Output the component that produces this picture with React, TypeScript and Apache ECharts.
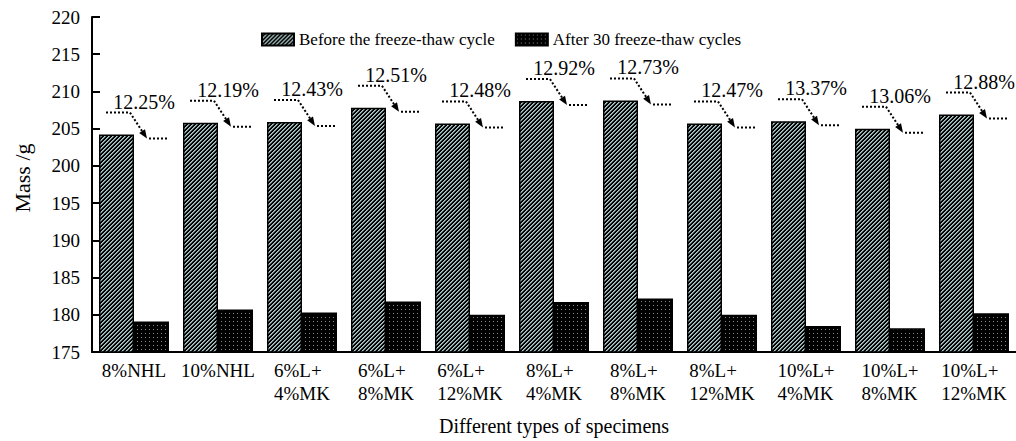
import React, { useEffect, useRef } from "react";
import * as echarts from "echarts";

// Specimen groups (line break splits the two-line labels)
const specimens = [
  "8%NHL",
  "10%NHL",
  "6%L+\n4%MK",
  "6%L+\n8%MK",
  "6%L+\n12%MK",
  "8%L+\n4%MK",
  "8%L+\n8%MK",
  "8%L+\n12%MK",
  "10%L+\n4%MK",
  "10%L+\n8%MK",
  "10%L+\n12%MK",
];

// Mass (g) before and after 30 freeze-thaw cycles
const massBefore = [204.2, 205.8, 205.9, 207.8, 205.7, 208.7, 208.8, 205.7, 206.0, 205.0, 206.9];
const massAfter = [179.1, 180.7, 180.3, 181.8, 180.0, 181.7, 182.2, 180.0, 178.5, 178.2, 180.2];

// Mass loss rate printed above each group
const lossRate = ["12.25%", "12.19%", "12.43%", "12.51%", "12.48%", "12.92%", "12.73%", "12.47%", "13.37%", "13.06%", "12.88%"];

const seriesNames = ["Before the freeze-thaw cycle", "After 30 freeze-thaw cycles"];

const Y_MIN = 175;
const Y_MAX = 220;
const Y_STEP = 5;

const FONT = "Liberation Serif";

// Diagonal hatch tile: black ground with pale teal "/" stripes
function makeHatch(): HTMLCanvasElement {
  const c = document.createElement("canvas");
  c.width = 8;
  c.height = 8;
  const g = c.getContext("2d")!;
  g.fillStyle = "#000";
  g.fillRect(0, 0, 8, 8);
  for (let y = 0; y < 8; y++) {
    for (let x = 0; x < 8; x++) {
      const k = (x + y) % 4;
      if (k === 0) {
        g.fillStyle = "#b4cccc";
        g.fillRect(x, y, 1, 1);
      } else if (k === 1) {
        g.fillStyle = "#6f8a8a";
        g.fillRect(x, y, 1, 1);
      }
    }
  }
  return c;
}

// Dotted tile: black ground with small grey dots
function makeDots(): HTMLCanvasElement {
  const c = document.createElement("canvas");
  c.width = 4;
  c.height = 4;
  const g = c.getContext("2d")!;
  g.fillStyle = "#000";
  g.fillRect(0, 0, 4, 4);
  g.fillStyle = "#8a8a8a";
  g.fillRect(1, 1, 1, 1);
  return c;
}

export default function App() {
  const ref = useRef<HTMLDivElement>(null);

  useEffect(() => {
    if (!ref.current) return;
    const chart = echarts.init(ref.current, undefined, { renderer: "svg" });

    const hatch = { image: makeHatch(), repeat: "repeat" } as any;
    const dots = { image: makeDots(), repeat: "repeat" } as any;

    // Dotted leader with arrow and loss-rate text above each "before" bar
    const renderLoss = (params: any, api: any) => {
      const idx = api.value(0);
      const p = api.coord([idx, api.value(1)]);
      const x = p[0];
      const y = p[1];
      const dash = { stroke: "#000", lineWidth: 2, lineDash: [2, 2] };
      const sx = x - 4;
      const sy = y - 22;
      const tx = x + 13;
      const ty = y + 4;
      const dx = tx - sx;
      const dy = ty - sy;
      const len = Math.sqrt(dx * dx + dy * dy);
      const ux = dx / len;
      const uy = dy / len;
      const headLen = 9;
      const headW = 3.5;
      const bx = tx - ux * headLen;
      const by = ty - uy * headLen;
      return {
        type: "group",
        children: [
          { type: "line", shape: { x1: x - 28, y1: sy, x2: sx, y2: sy }, style: dash },
          { type: "line", shape: { x1: sx, y1: sy, x2: bx, y2: by }, style: dash },
          {
            type: "polygon",
            shape: {
              points: [
                [tx, ty],
                [bx - uy * headW, by + ux * headW],
                [bx + uy * headW, by - ux * headW],
              ],
            },
            style: { fill: "#000" },
          },
          { type: "line", shape: { x1: tx + 2, y1: ty, x2: x + 35, y2: ty }, style: dash },
          {
            type: "text",
            x: x + 10,
            y: y - 33,
            style: {
              text: lossRate[idx],
              font: `20px ${FONT}`,
              fontSize: 20,
              fontFamily: FONT,
              fill: "#000",
              align: "center",
              verticalAlign: "middle",
            },
          },
        ],
      };
    };

    chart.setOption({
      animation: false,
      textStyle: { fontFamily: FONT },
      grid: { left: 92, right: -4, top: 17, bottom: 84, containLabel: false },
      legend: {
        data: seriesNames,
        left: 256,
        top: 26,
        icon: "rect",
        itemWidth: 32,
        itemHeight: 12,
        itemGap: 20,
        textStyle: { fontSize: 17, fontFamily: FONT, color: "#000" },
      },
      graphic: [
        {
          type: "text",
          x: 22,
          y: 178,
          rotation: Math.PI / 2,
          style: {
            text: "Mass /g",
            font: `22px ${FONT}`,
            fontSize: 22,
            fontFamily: FONT,
            fill: "#000",
            align: "center",
            verticalAlign: "middle",
          },
        },
      ],
      xAxis: {
        type: "category",
        data: specimens,
        name: "Different types of specimens",
        nameLocation: "middle",
        nameGap: 64,
        nameTextStyle: { fontSize: 20, fontFamily: FONT, color: "#000" },
        axisLine: { lineStyle: { color: "#000", width: 2 } },
        axisTick: { show: false },
        axisLabel: {
          interval: 0,
          margin: 7,
          fontFamily: FONT,
          fontSize: 19,
          formatter: (v: string) =>
            v
              .split("\n")
              .map((s) => `{l|${s}}`)
              .join("\n"),
          rich: {
            l: {
              align: "left",
              fontSize: 19,
              fontFamily: FONT,
              color: "#000",
              lineHeight: 23,
            },
          },
        },
      },
      yAxis: {
        type: "value",
        min: Y_MIN,
        max: Y_MAX,
        interval: Y_STEP,
        axisLine: { show: true, lineStyle: { color: "#000", width: 2 } },
        axisTick: { show: true, inside: true, length: 8, lineStyle: { color: "#000", width: 2 } },
        splitLine: { show: false },
        axisLabel: { fontSize: 19, fontFamily: FONT, color: "#000", margin: 12 },
      },
      series: [
        {
          name: seriesNames[0],
          type: "bar",
          data: massBefore,
          barWidth: 35,
          barGap: "0%",
          itemStyle: { color: hatch, borderColor: "#000", borderWidth: 1.5 },
        },
        {
          name: seriesNames[1],
          type: "bar",
          data: massAfter,
          barWidth: 35,
          barGap: "0%",
          itemStyle: { color: dots, borderColor: "#000", borderWidth: 1.5 },
        },
        {
          type: "custom",
          name: "loss",
          data: massBefore.map((v, i) => [i, v]),
          encode: { x: 0, y: 1 },
          renderItem: renderLoss,
          silent: true,
          z: 10,
        },
      ],
    });

    return () => chart.dispose();
  }, []);

  return (
    <div
      ref={ref}
      style={{ position: "absolute", left: 0, top: 0, width: 1016, height: 441, background: "#fff" }}
    />
  );
}
